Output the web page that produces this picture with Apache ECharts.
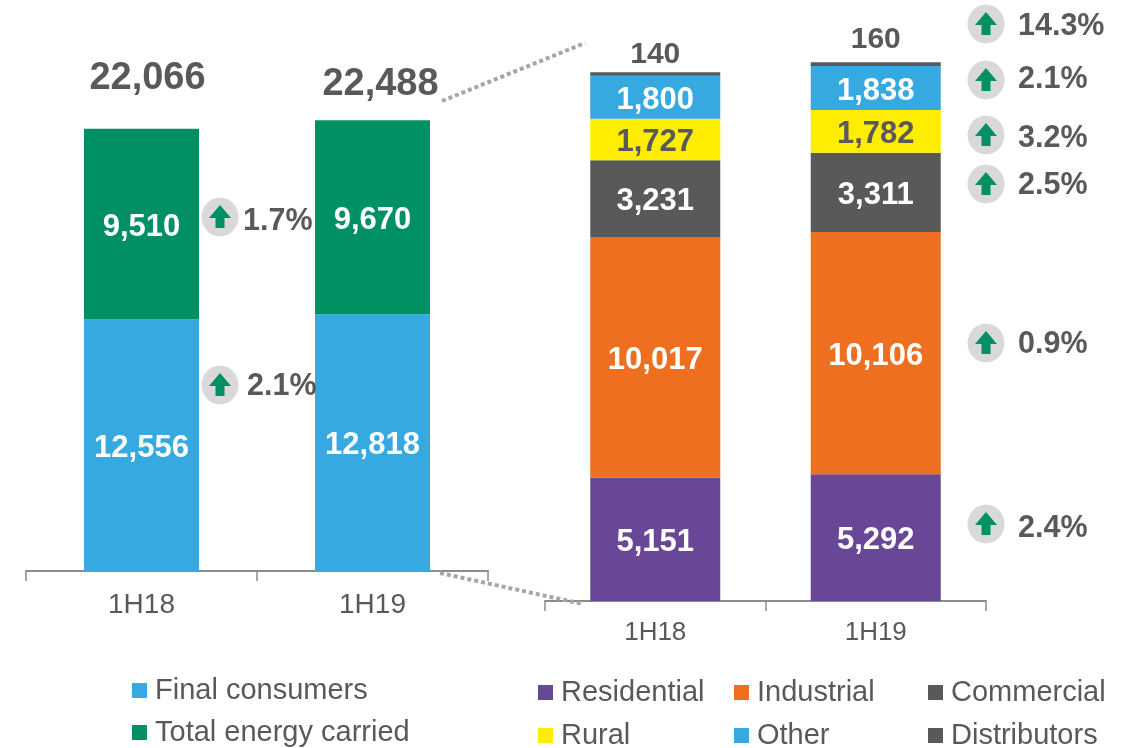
<!DOCTYPE html>
<html>
<head>
<meta charset="utf-8">
<title>Energy carried and consumption</title>
<script src="https://cdn.jsdelivr.net/npm/echarts@6/dist/echarts.min.js"></script>
<style>
  html, body { margin: 0; padding: 0; background: #fff; }
  #chart { width: 1132px; height: 748px; }
</style>
</head>
<body>
<div id="chart"></div>
<script>
const periods = ['1H18', '1H19'];

// left chart
const finalConsumers = [12556, 12818];
const totalEnergyCarried = [9510, 9670];
const totals = [22066, 22488];

// right chart, breakdown by class
const residential = [5151, 5292];
const industrial = [10017, 10106];
const commercial = [3231, 3311];
const rural = [1727, 1782];
const other = [1800, 1838];
const distributors = [140, 160];

// growth call-outs
const growthLeft = ['1.7%', '2.1%'];
const growthRight = ['14.3%', '2.1%', '3.2%', '2.5%', '0.9%', '2.4%'];

const FONT = '"Liberation Sans", Arial, sans-serif';
const GREY = '#595959';
const BLUE = '#36a9e1';
const GREEN = '#009064';

const fmt = v => v.toLocaleString('en-US');

function barSeries(name, data, color, gridIdx, labelColor) {
  return {
    name: name,
    type: 'bar',
    stack: 'g' + gridIdx,
    xAxisIndex: gridIdx,
    yAxisIndex: gridIdx,
    barWidth: gridIdx === 0 ? 115 : 130,
    data: data,
    itemStyle: { color: color },
    label: {
      show: true,
      position: 'inside',
      offset: [0, 3],
      color: labelColor || '#fff',
      fontFamily: FONT,
      fontWeight: 'bold',
      fontSize: 31,
      formatter: p => fmt(p.value)
    }
  };
}

// call-out: grey badge with green arrow, then the percentage
function callout(cx, cy, text, textX, textY) {
  return [
    {
      type: 'ellipse',
      shape: { cx: cx, cy: cy, rx: 18.5, ry: 19.5 },
      style: { fill: '#d9d9d9' },
      z: 10
    },
    {
      type: 'polygon',
      shape: {
        points: [[cx, cy - 12], [cx + 11, cy + 1], [cx + 4.5, cy + 1], [cx + 4.5, cy + 11],
          [cx - 4.5, cy + 11], [cx - 4.5, cy + 1], [cx - 11, cy + 1]]
      },
      style: { fill: GREEN },
      z: 11
    },
    {
      type: 'text',
      x: textX,
      y: textY,
      style: {
        text: text,
        fill: GREY,
        font: 'bold 30.5px ' + FONT,
        textAlign: 'left',
        textVerticalAlign: 'middle'
      },
      z: 11
    }
  ];
}

function dotted(x1, y1, x2, y2) {
  return {
    type: 'line',
    shape: { x1: x1, y1: y1, x2: x2, y2: y2 },
    style: { stroke: '#a6a6a6', lineWidth: 4, lineDash: [4, 3] },
    z: 9
  };
}

function axisX(gridIdx, fontSize, margin) {
  return {
    type: 'category',
    gridIndex: gridIdx,
    data: periods,
    axisLine: { lineStyle: { color: '#8c8c8c', width: 2 } },
    axisTick: { show: true, length: 10, lineStyle: { color: '#8c8c8c', width: 1.5 } },
    axisLabel: { color: GREY, fontFamily: FONT, fontSize: fontSize, margin: margin }
  };
}

function axisY(gridIdx) {
  return { type: 'value', gridIndex: gridIdx, min: 0, max: 25000, show: false, splitLine: { show: false } };
}

function legendCol(names, left, top, gap) {
  return {
    data: names,
    orient: 'vertical',
    left: left,
    top: top,
    height: 120,
    padding: 0,
    itemWidth: 15,
    itemHeight: 15,
    itemGap: gap,
    icon: 'rect',
    selectedMode: false,
    textStyle: { color: GREY, fontFamily: FONT, fontSize: 29, padding: [0, 0, 0, 3] }
  };
}

const totalOffsets = [[6, -26], [8, -12]];
const distributorOffsets = [[0, 2], [0, -2]];

const option = {
  animation: false,
  backgroundColor: '#fff',
  grid: [
    { left: 26, width: 462, top: 70, height: 501 },
    { left: 545, width: 441, top: 2, height: 599 }
  ],
  xAxis: [axisX(0, 28, 20), axisX(1, 26, 19)],
  yAxis: [axisY(0), axisY(1)],
  legend: [
    legendCol(['Final consumers', 'Total energy carried'], 132, 676, 13),
    legendCol(['Residential', 'Rural'], 538, 678, 14),
    legendCol(['Industrial', 'Other'], 734, 678, 14),
    legendCol(['Commercial', 'Distributors'], 928, 678, 14)
  ],
  series: [
    barSeries('Final consumers', finalConsumers, BLUE, 0),
    barSeries('Total energy carried', totalEnergyCarried, GREEN, 0),
    {
      name: 'Total',
      type: 'scatter',
      xAxisIndex: 0,
      yAxisIndex: 0,
      symbolSize: 0,
      itemStyle: { opacity: 1 },
      data: totals.map((v, i) => ({
        value: v,
        label: { offset: totalOffsets[i] }
      })),
      label: {
        show: true,
        position: 'top',
        color: GREY,
        fontFamily: FONT,
        fontWeight: 'bold',
        fontSize: 38,
        formatter: p => fmt(p.value)
      }
    },
    barSeries('Residential', residential, '#674796', 1),
    barSeries('Industrial', industrial, '#ee6f1f', 1),
    barSeries('Commercial', commercial, GREY, 1),
    barSeries('Rural', rural, '#ffed00', 1, GREY),
    barSeries('Other', other, BLUE, 1),
    barSeries('Distributors', distributors, GREY, 1, GREY)
  ],
  graphic: [
    dotted(442, 101, 585, 43),
    dotted(440, 573, 583, 604)
  ]
};

// the distributors label sits above the stack
const distSeries = option.series[option.series.length - 1];
distSeries.label.position = 'top';
distSeries.label.fontSize = 30;
distSeries.data = distributors.map((v, i) => ({ value: v, label: { offset: distributorOffsets[i] } }));

const leftBadges = [[220, 217, 243, 222], [220, 385, 247, 387]];
const rightBadges = [[986, 24, 1018, 27], [986, 80, 1018, 80], [986, 135, 1018, 139], [986, 184, 1018, 186], [986, 343, 1018, 345], [986, 524, 1018, 529]];
growthLeft.forEach((t, i) => {
  const b = leftBadges[i];
  option.graphic = option.graphic.concat(callout(b[0], b[1], t, b[2], b[3]));
});
growthRight.forEach((t, i) => {
  const b = rightBadges[i];
  option.graphic = option.graphic.concat(callout(b[0], b[1], t, b[2], b[3]));
});

const myChart = echarts.init(document.getElementById('chart'), null, { renderer: 'canvas' });
myChart.setOption(option);
</script>
</body>
</html>
